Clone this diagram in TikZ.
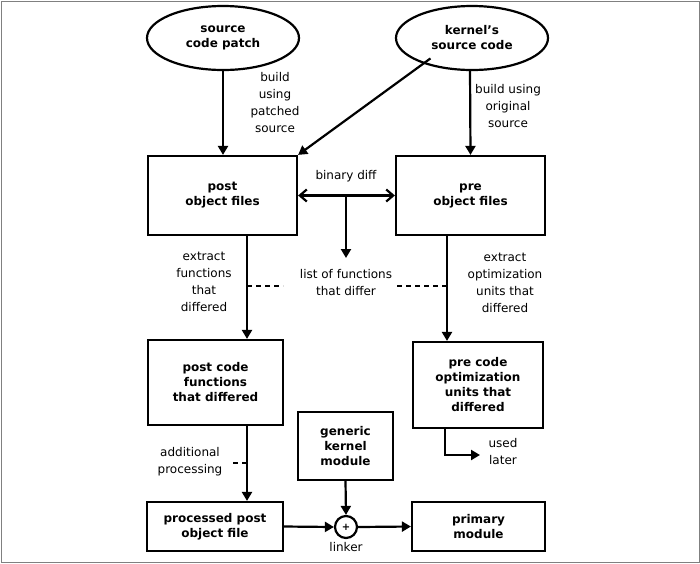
\documentclass[tikz,border=0pt]{standalone}
\usepackage{fontspec}
\setmainfont{DejaVu Sans}
\usetikzlibrary{shapes.geometric,arrows.meta}
\begin{document}
\begin{tikzpicture}[x=1pt,y=-1pt,
  box/.style={draw,line width=2.2pt,align=center,font=\bfseries\fontsize{12}{15}\selectfont,inner sep=0pt},
  ell/.style={draw,ellipse,line width=2.2pt,align=center,font=\bfseries\fontsize{12}{15}\selectfont,minimum width=152pt,minimum height=64pt,inner sep=0pt},
  lab/.style={align=center,font=\fontsize{12}{17}\selectfont,inner sep=0pt},
  arr/.style={line width=2.2pt,-{Triangle[length=9pt,width=10pt]}},
  dsh/.style={line width=1.6pt,dash pattern=on 5pt off 4pt}]
\draw[gray,line width=1pt] (1,1) rectangle (699,562);
\useasboundingbox (0,0) rectangle (700,563);
\node[ell] (patch) at (223,38) {source\\code patch};
\node[ell] (kern) at (472,38) {kernel's\\source code};
\node[box,minimum width=149pt,minimum height=79pt] (post) at (222.5,195.5) {post\\object files};
\node[box,minimum width=149pt,minimum height=79pt] (pre) at (470.5,195.5) {pre\\object files};
\node[box,minimum width=135pt,minimum height=85pt] (pcf) at (215.5,382.5) {post code\\functions\\that differed};
\node[box,minimum width=130pt,minimum height=86pt] (pcu) at (478,385) {pre code\\optimization\\units that\\differed};
\node[box,minimum width=95pt,minimum height=68pt] (gen) at (345.5,446) {generic\\kernel\\module};
\node[box,minimum width=136pt,minimum height=49pt] (proc) at (215,526.5) {processed post\\object file};
\node[draw,circle,line width=2.2pt,minimum size=22pt,inner sep=0pt,font=\bfseries] (lnk) at (346,527) {+};
\node[box,minimum width=133pt,minimum height=49pt] (prim) at (478.5,526.5) {primary\\module};
\coordinate (lst) at (346,258);
\coordinate (ul) at (480,455);
\draw[arr] (patch.south) -- (post.north -| patch.south);
\draw[arr] (kern.south west) ++(13,-3) coordinate (ks) -- (post.north east);
\draw[arr] (470,70) -- (pre.north);
\draw[line width=2.2pt,{Straight Barb[length=7pt,width=12pt]}-{Straight Barb[length=7pt,width=12pt]}] (post.east) -- (pre.east -| pre.west);
\draw[arr] (346,196) -- (lst);
\draw[arr] (247,235) -- (pcf.north -| 247,0);
\draw[arr] (447,235) -- (pcu.north -| 447,0);
\draw[dsh] (247,286) -- (283,286);
\draw[dsh] (397,286) -- (447,286);
\draw[arr] (445,428) |- (ul);
\draw[arr] (247,425) -- (proc.north -| 247,0);
\draw[dsh] (233,463) -- (247,463);
\draw[arr] (gen.south) -- (lnk.north);
\draw[arr] (proc.east) -- (lnk.west);
\draw[arr] (lnk.east) -- (prim.west);
\node[lab] at (275,103) {build\\using\\patched\\source};
\node[lab] at (508,106) {build using\\original\\source};
\node[lab] at (346,176) {binary diff};
\node[lab] at (346,283) {list of functions\\that differ};
\node[lab] at (204,282) {extract\\functions\\that\\differed};
\node[lab] at (505,283) {extract\\optimization\\units that\\differed};
\node[lab] at (503,452) {used\\later};
\node[lab] at (190,462) {additional\\processing};
\node[lab] at (346,547) {linker};
\end{tikzpicture}
\end{document}
